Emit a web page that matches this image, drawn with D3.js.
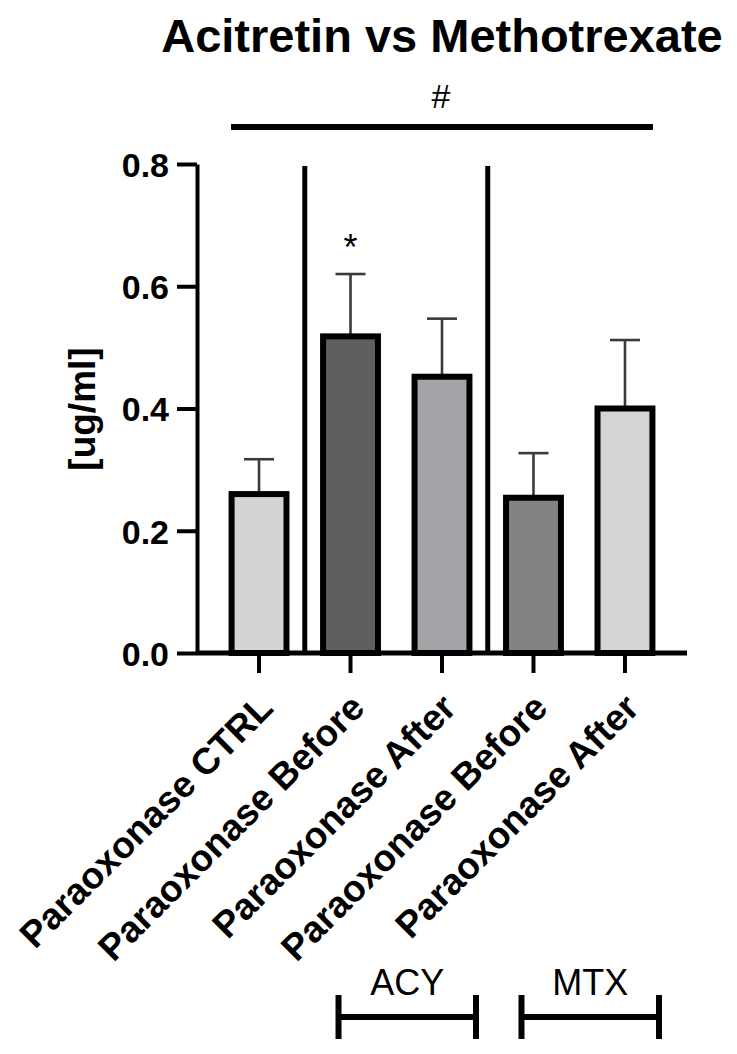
<!DOCTYPE html>
<html>
<head>
<meta charset="utf-8">
<script src="https://cdn.jsdelivr.net/npm/d3@7"></script>
<style>
  html, body { margin: 0; padding: 0; background: #fff; }
  svg { display: block; font-family: "Liberation Sans", Arial, Helvetica, sans-serif; }
</style>
</head>
<body>
<svg id="chart" width="737" height="1054"></svg>
<script>
// ---- data ----
const categories = ["Paraoxonase CTRL", "Paraoxonase Before", "Paraoxonase After", "Paraoxonase Before", "Paraoxonase After"];
const means = [0.26, 0.518, 0.452, 0.254, 0.400];
const errors = [0.057, 0.102, 0.095, 0.073, 0.112];
const fills = ["#d3d3d3", "#5f5f5f", "#a4a3a8", "#838383", "#d5d5d5"];
const yTicks = [0.0, 0.2, 0.4, 0.6, 0.8];
const title = "Acitretin vs Methotrexate";
const yLabel = "[ug/ml]";
const groups = [{ label: "ACY", from: 1, to: 2 }, { label: "MTX", from: 3, to: 4 }];
const separatorsAfter = [0, 2];   // vertical divider after these bar indices
const starOn = [1];               // "*" above these bars
const hashSpan = [0, 4];          // "#" comparison line

// ---- layout ----
const svg = d3.select("#chart");
const ids = categories.map((d, i) => i);
const x = d3.scaleBand().domain(ids).range([197, 687]).paddingInner(0.4).paddingOuter(0.378);
const y = d3.scaleLinear().domain([0, 0.8]).range([653, 164]);
const cx = i => x(i) + x.bandwidth() / 2;

// title
svg.append("text").attr("x", 442).attr("y", 52).attr("text-anchor", "middle")
  .attr("font-size", 47).attr("font-weight", "bold").text(title);

// # comparison
svg.append("line").attr("x1", cx(hashSpan[0]) - 28).attr("x2", cx(hashSpan[1]) + 28)
  .attr("y1", 127).attr("y2", 127).attr("stroke", "#000").attr("stroke-width", 6);
svg.append("text").attr("x", (cx(hashSpan[0]) + cx(hashSpan[1])) / 2 - 1).attr("y", 108)
  .attr("text-anchor", "middle").attr("font-size", 34).text("#");

// separators
separatorsAfter.forEach(i => {
  const sx = (cx(i) + cx(i + 1)) / 2;
  svg.append("line").attr("x1", sx).attr("x2", sx).attr("y1", y(0)).attr("y2", y(0.8) + 2)
    .attr("stroke", "#000").attr("stroke-width", 5);
});

// error bars
const eb = svg.append("g").attr("stroke", "#3a3a3a").attr("stroke-width", 2.6);
ids.forEach(i => {
  eb.append("line").attr("x1", cx(i)).attr("x2", cx(i)).attr("y1", y(means[i])).attr("y2", y(means[i] + errors[i]));
  eb.append("line").attr("x1", cx(i) - 15).attr("x2", cx(i) + 15).attr("y1", y(means[i] + errors[i])).attr("y2", y(means[i] + errors[i]));
});

// bars
svg.append("g").selectAll("rect").data(ids).join("rect")
  .attr("x", i => x(i)).attr("width", x.bandwidth())
  .attr("y", i => y(means[i])).attr("height", i => y(0) - y(means[i]))
  .attr("fill", i => fills[i]).attr("stroke", "#000").attr("stroke-width", 6);

// stars
starOn.forEach(i => {
  svg.append("text").attr("x", cx(i)).attr("y", y(means[i] + errors[i]) - 14)
    .attr("text-anchor", "middle").attr("font-size", 36).text("*");
});

// y axis
const yAxis = svg.append("g").attr("transform", "translate(197,0)")
  .call(d3.axisLeft(y).tickValues(yTicks).tickFormat(d3.format(".1f")).tickSize(20).tickSizeOuter(0).tickPadding(8));
yAxis.selectAll("path, line").attr("stroke", "#000").attr("stroke-width", 4);
yAxis.selectAll("text").attr("font-size", 34).attr("font-weight", "bold").attr("fill", "#000")
  .attr("font-family", "'Liberation Sans', Arial, sans-serif").attr("dy", "0.36em");

// x axis
const xAxis = svg.append("g").attr("transform", `translate(0,${y(0)})`)
  .call(d3.axisBottom(x).tickSize(20).tickSizeOuter(0).tickFormat(""));
xAxis.select("path").attr("stroke", "#000").attr("stroke-width", 5)
  .attr("d", `M197,0H687`);
xAxis.selectAll("line").attr("stroke", "#000").attr("stroke-width", 4);

// x labels
svg.append("g").selectAll("text").data(ids).join("text")
  .attr("transform", i => `translate(${cx(i) + 16},${y(0) + 57}) rotate(-45)`)
  .attr("text-anchor", "end").attr("font-size", 37).attr("font-weight", "bold")
  .text(i => categories[i]);

// y label
svg.append("text").attr("transform", "translate(95,409) rotate(-90)")
  .attr("text-anchor", "middle").attr("font-size", 37).attr("font-weight", "bold").text(yLabel);

// group brackets
groups.forEach(g => {
  const x1 = cx(g.from) - 12, x2 = cx(g.to) + 34;
  const gg = svg.append("g").attr("stroke", "#000").attr("stroke-width", 6);
  gg.append("line").attr("x1", x1).attr("x2", x2).attr("y1", 1017).attr("y2", 1017);
  gg.append("line").attr("x1", x1).attr("x2", x1).attr("y1", 995).attr("y2", 1039);
  gg.append("line").attr("x1", x2).attr("x2", x2).attr("y1", 995).attr("y2", 1039);
  svg.append("text").attr("x", (x1 + x2) / 2).attr("y", 995).attr("text-anchor", "middle")
    .attr("font-size", 36).text(g.label);
});
</script>
</body>
</html>
